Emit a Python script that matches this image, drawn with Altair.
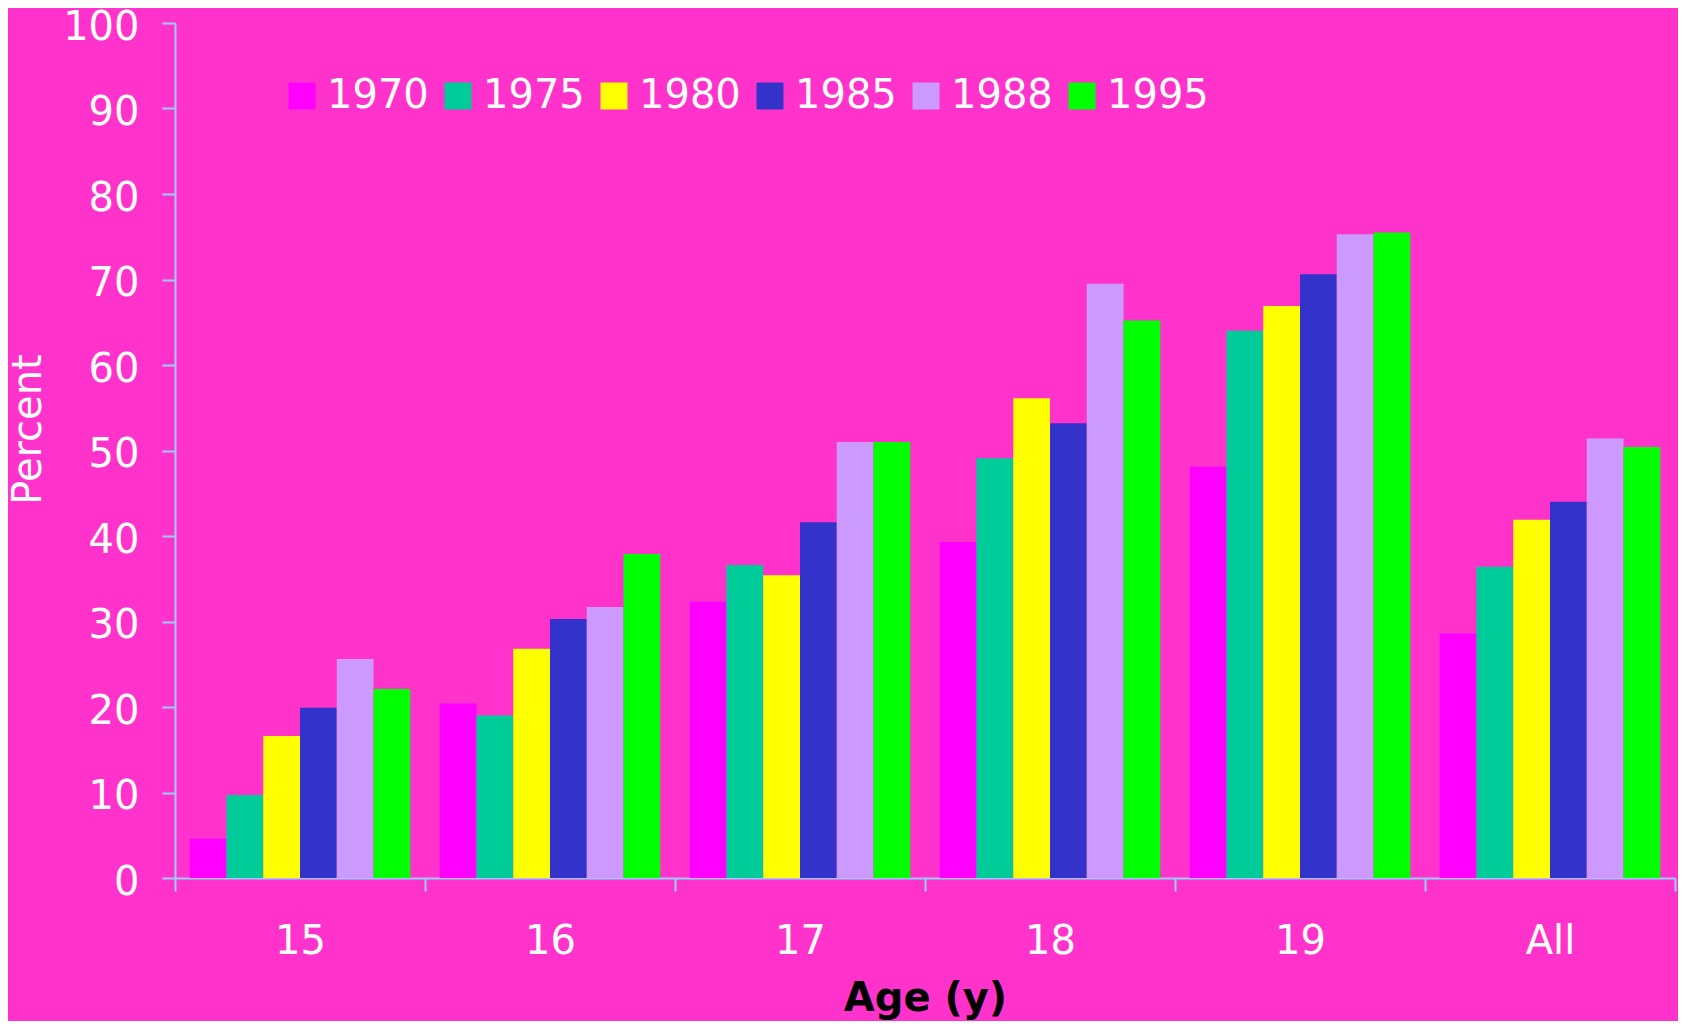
import altair as alt
import pandas as pd

ages = ["15", "16", "17", "18", "19", "All"]
years = ["1970", "1975", "1980", "1985", "1988", "1995"]
colors = ["#FF00FF", "#00CC99", "#FFFF00", "#3333CC", "#CC99FF", "#00FF00"]

v1970 = [4.6, 20.4, 32.3, 39.3, 48.1, 28.6]
v1975 = [9.7, 19.0, 36.6, 49.1, 64.0, 36.4]
v1980 = [16.6, 26.8, 35.4, 56.1, 66.9, 41.9]
v1985 = [19.9, 30.3, 41.6, 53.2, 70.6, 44.0]
v1988 = [25.6, 31.7, 51.0, 69.5, 75.3, 51.4]
v1995 = [22.1, 37.9, 51.0, 65.2, 75.5, 50.4]

y_ticks = [0, 10, 20, 30, 40, 50, 60, 70, 80, 90, 100]

series = [v1970, v1975, v1980, v1985, v1988, v1995]
rows = []
for yr, vals in zip(years, series):
    for a, v in zip(ages, vals):
        rows.append({"Age": a, "Year": yr, "Percent": v})
df = pd.DataFrame(rows)

FONT = "DejaVu Sans"
AXIS_COLOR = "#99CCFF"

chart = (
    alt.Chart(df)
    .mark_bar()
    .encode(
        x=alt.X(
            "Age:N",
            sort=ages,
            scale=alt.Scale(paddingInner=0, paddingOuter=0),
            axis=alt.Axis(
                title="Age (y)",
                labelAngle=0,
                labelFontSize=40,
                labelColor="white",
                labelFont=FONT,
                labelPadding=30,
                tickSize=13,
                tickColor=AXIS_COLOR,
                tickWidth=2,
                tickBand="extent",
                domainColor=AXIS_COLOR,
                domainWidth=2,
                titleFont=FONT,
                titleFontSize=40,
                titleFontWeight="bold",
                titleColor="black",
                titleBaseline="top",
                titleY=100,
                grid=False,
            ),
        ),
        xOffset=alt.XOffset(
            "Year:N",
            sort=years,
            scale=alt.Scale(paddingInner=0, paddingOuter=0.4),
        ),
        y=alt.Y(
            "Percent:Q",
            scale=alt.Scale(domain=[0, 100], nice=False),
            axis=alt.Axis(
                title="Percent",
                values=y_ticks,
                labelFontSize=40,
                labelColor="white",
                labelFont=FONT,
                labelPadding=23,
                labelOffset=4,
                tickSize=13,
                tickColor=AXIS_COLOR,
                tickWidth=2,
                domainColor=AXIS_COLOR,
                domainWidth=2,
                titleFont=FONT,
                titleFontSize=40,
                titleFontWeight="normal",
                titleColor="white",
                titleAngle=270,
                titleBaseline="alphabetic",
                titleAlign="center",
                titleX=-135,
                titleY=406,
                grid=False,
            ),
        ),
        color=alt.Color(
            "Year:N",
            sort=years,
            scale=alt.Scale(domain=years, range=colors),
            legend=alt.Legend(
                title=None,
                orient="none",
                legendX=107,
                legendY=53,
                direction="horizontal",
                symbolType="square",
                symbolSize=729,
                symbolStrokeWidth=0,
                symbolOpacity=1,
                labelFontSize=40,
                labelFont=FONT,
                labelColor="white",
                labelOffset=5,
                columnPadding=9,
                padding=0,
            ),
        ),
    )
    .properties(
        width=1500,
        height=855,
        background="#FF33CC",
        padding={"left": 167, "top": 15, "right": 3, "bottom": 143},
        autosize=alt.AutoSizeParams(type="none"),
    )
    .configure_view(stroke=None)
)

chart.save("out.html", embed_options={"renderer": "svg", "actions": False})
